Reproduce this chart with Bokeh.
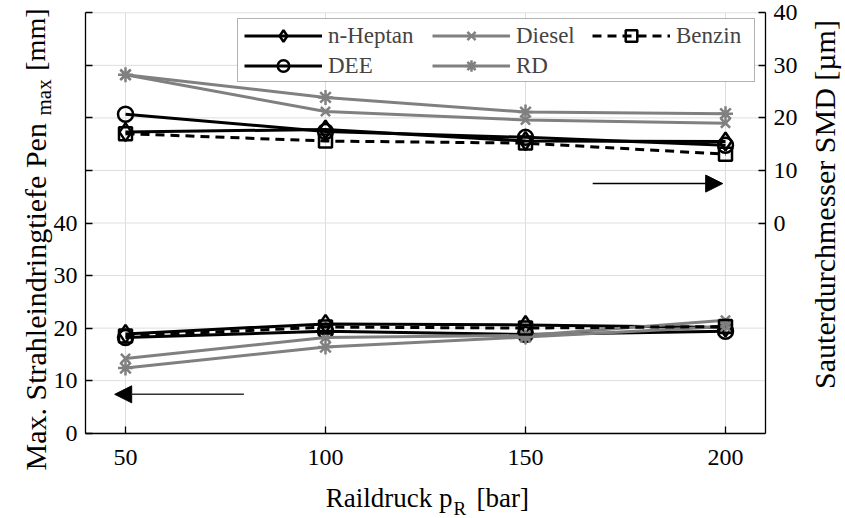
import math
from bokeh.plotting import figure
from bokeh.models import (Range1d, LinearAxis, Legend, LegendItem, Label, Arrow,
                          NormalHead, FixedTicker, BoxAnnotation)
from bokeh.embed import file_html
from bokeh.resources import INLINE

# ---------------- data ----------------
pressure = [50, 100, 150, 200]

pen_heptan = [18.9, 20.8, 20.6, 20.1]
pen_dee = [18.2, 19.4, 18.8, 19.4]
pen_diesel = [14.2, 18.2, 18.6, 21.5]
pen_rd = [12.4, 16.4, 18.3, 20.3]
pen_benzin = [18.5, 20.2, 20.0, 20.3]

smd_heptan = [17.3, 17.8, 15.6, 15.5]
smd_dee = [20.7, 17.4, 16.3, 14.8]
smd_diesel = [28.2, 21.2, 19.6, 19.0]
smd_rd = [28.2, 23.9, 21.1, 20.8]
smd_benzin = [17.0, 15.6, 15.2, 13.1]

series_names = ["n-Heptan", "DEE", "Diesel", "RD", "Benzin"]
x_ticks = [50, 100, 150, 200]
left_ticks = [0, 10, 20, 30, 40, 50, 60, 70, 80]
left_labelled = [0, 10, 20, 30, 40]
right_ticks = [0, 10, 20, 30, 40]

X_LIM = (40, 210)
PEN_LIM = (0, 80)
SMD_LIM = (-40, 40)

FONT = "Liberation Serif"
BLACK = "#000000"
GREY = "#808080"
GRID = "#dedede"

W, H = 845, 518
# axes box inside the canvas (pixels): left 85, right 765, top 12.3, bottom 432.7
PX_L, PX_R, PX_T, PX_B = 85.0, 765.0, 12.3, 432.7
xs = (PX_R - PX_L) / (X_LIM[1] - X_LIM[0])
ys = (PX_B - PX_T) / (PEN_LIM[1] - PEN_LIM[0])
x_range = Range1d(X_LIM[0] - PX_L / xs, X_LIM[1] + (W - PX_R) / xs)
y_range = Range1d(PEN_LIM[0] - (H - PX_B) / ys, PEN_LIM[1] + PX_T / ys)
off = SMD_LIM[0] - PEN_LIM[0]
smd_range = Range1d(y_range.start + off, y_range.end + off)

p = figure(width=W, height=H, output_backend="svg", toolbar_location=None,
           x_range=x_range, y_range=y_range,
           min_border_left=0, min_border_right=0, min_border_top=0,
           min_border_bottom=0, min_border=0)
p.extra_y_ranges = {"smd": smd_range}
p.outline_line_color = None
p.background_fill_color = "white"
p.border_fill_color = "white"
p.grid.visible = False


def style_axis(ax):
    ax.axis_line_color = BLACK
    ax.axis_line_width = 1.3
    ax.major_tick_line_color = BLACK
    ax.major_tick_line_width = 1.3
    ax.major_tick_in = 7
    ax.major_tick_out = 0
    ax.minor_tick_line_color = None
    ax.major_label_text_font = FONT
    ax.major_label_text_font_size = "24px"
    ax.major_label_text_color = BLACK


x_axis = p.xaxis[0]
l_axis = p.yaxis[0]
style_axis(x_axis)
style_axis(l_axis)
x_axis.ticker = FixedTicker(ticks=x_ticks)
x_axis.fixed_location = PEN_LIM[0]
x_axis.bounds = X_LIM
x_axis.major_label_standoff = 17
l_axis.ticker = FixedTicker(ticks=left_ticks)
l_axis.major_label_overrides = {t: "" for t in left_ticks if t not in left_labelled}
l_axis.fixed_location = X_LIM[0]
l_axis.bounds = PEN_LIM
l_axis.major_label_standoff = 8

r_axis = LinearAxis(y_range_name="smd", ticker=FixedTicker(ticks=right_ticks))
style_axis(r_axis)
r_axis.fixed_location = X_LIM[1]
r_axis.bounds = SMD_LIM
r_axis.major_label_standoff = 8
p.add_layout(r_axis, "right")

# grid lines from the tick lists, limited to the axes box
p.segment(x0=x_ticks, y0=[PEN_LIM[0]] * len(x_ticks), x1=x_ticks,
          y1=[PEN_LIM[1]] * len(x_ticks), line_color=GRID, line_width=1)
p.segment(x0=[X_LIM[0]] * len(left_ticks), y0=left_ticks,
          x1=[X_LIM[1]] * len(left_ticks), y1=left_ticks,
          line_color=GRID, line_width=1)

# series
styles = {
    "n-Heptan": dict(color=BLACK, marker="diamond", dash="solid", size=18),
    "DEE": dict(color=BLACK, marker="circle", dash="solid", size=15),
    "Diesel": dict(color=GREY, marker="x", dash="solid", size=13),
    "RD": dict(color=GREY, marker="asterisk", dash="solid", size=15),
    "Benzin": dict(color=BLACK, marker="square", dash="9 6", size=13),
}
pen_data = dict(zip(series_names, [pen_heptan, pen_dee, pen_diesel, pen_rd, pen_benzin]))
smd_data = dict(zip(series_names, [smd_heptan, smd_dee, smd_diesel, smd_rd, smd_benzin]))

legend_items = {}
for name in series_names:
    st = styles[name]
    l1 = p.line(pressure, pen_data[name], line_color=st["color"], line_width=3,
                line_dash=st["dash"])
    m1 = p.scatter(pressure, pen_data[name], marker=st["marker"], size=st["size"],
                   line_color=st["color"], fill_color=None, line_width=2.5)
    p.line(pressure, smd_data[name], line_color=st["color"], line_width=3,
           line_dash=st["dash"], y_range_name="smd")
    p.scatter(pressure, smd_data[name], marker=st["marker"], size=st["size"],
              line_color=st["color"], fill_color=None, line_width=2.5,
              y_range_name="smd")
    legend_items[name] = [l1, m1]

# legend frame (screen units, measured from the canvas bottom-left)
p.add_layout(BoxAnnotation(left=237, right=754, top=H - 18, bottom=H - 81,
                           left_units="screen", right_units="screen",
                           top_units="screen", bottom_units="screen",
                           fill_color="white", fill_alpha=1,
                           line_color=BLACK, line_width=1, level="overlay"))

# legend, one Legend per column
GH = 29
legend_columns = [["n-Heptan", "DEE"], ["Diesel", "RD"], ["Benzin"]]
legend_x = [244, 432, 592]
for names, lx in zip(legend_columns, legend_x):
    n_rows = len(names)
    bottom_px = 19 + n_rows * GH + (n_rows - 1) * 1 + 2
    lg = Legend(items=[LegendItem(label=n, renderers=legend_items[n]) for n in names],
                location=(lx, H - bottom_px), orientation="vertical",
                label_text_font=FONT, label_text_font_size="23px",
                glyph_width=78, glyph_height=GH, label_height=GH,
                label_standoff=6, spacing=1, padding=1, margin=0,
                border_line_color=None, background_fill_alpha=0)
    p.add_layout(lg, "center")

# arrows (annotations)
p.add_layout(Arrow(end=NormalHead(size=17, fill_color=BLACK, line_color=BLACK),
                   x_start=166.8, y_start=47.5, x_end=199.3, y_end=47.5,
                   line_color=BLACK, line_width=1.5))
p.add_layout(Arrow(end=NormalHead(size=17, fill_color=BLACK, line_color=BLACK),
                   x_start=79.6, y_start=7.4, x_end=47.3, y_end=7.4,
                   line_color="#333333", line_width=1.5))


def add_text(px, py, txt, size, angle=0, align="left", baseline="alphabetic"):
    p.add_layout(Label(x=px, y=py, x_units="canvas", y_units="canvas", text=txt,
                       angle=angle, text_font=FONT, text_font_size=size,
                       text_color=BLACK, text_align=align, text_baseline=baseline))

# x label
add_text(452, 497, "Raildruck p", "27px", align="right")
add_text(453, 508, "R", "19px")
add_text(476, 497, "[bar]", "27px")

# left label (rotated)
up = math.pi / 2
add_text(35, 470, "Max. Strahleindringtiefe Pen", "30px", angle=up)
add_text(43, 115, "max", "21px", angle=up)
add_text(35, 8, "[mm]", "28px", angle=up, align="right")

# right label (rotated)
add_text(824, 204, "Sauterdurchmesser SMD [µm]", "30px", angle=up, align="center",
         baseline="middle")

open("out.html", "w").write(file_html(p, INLINE))
